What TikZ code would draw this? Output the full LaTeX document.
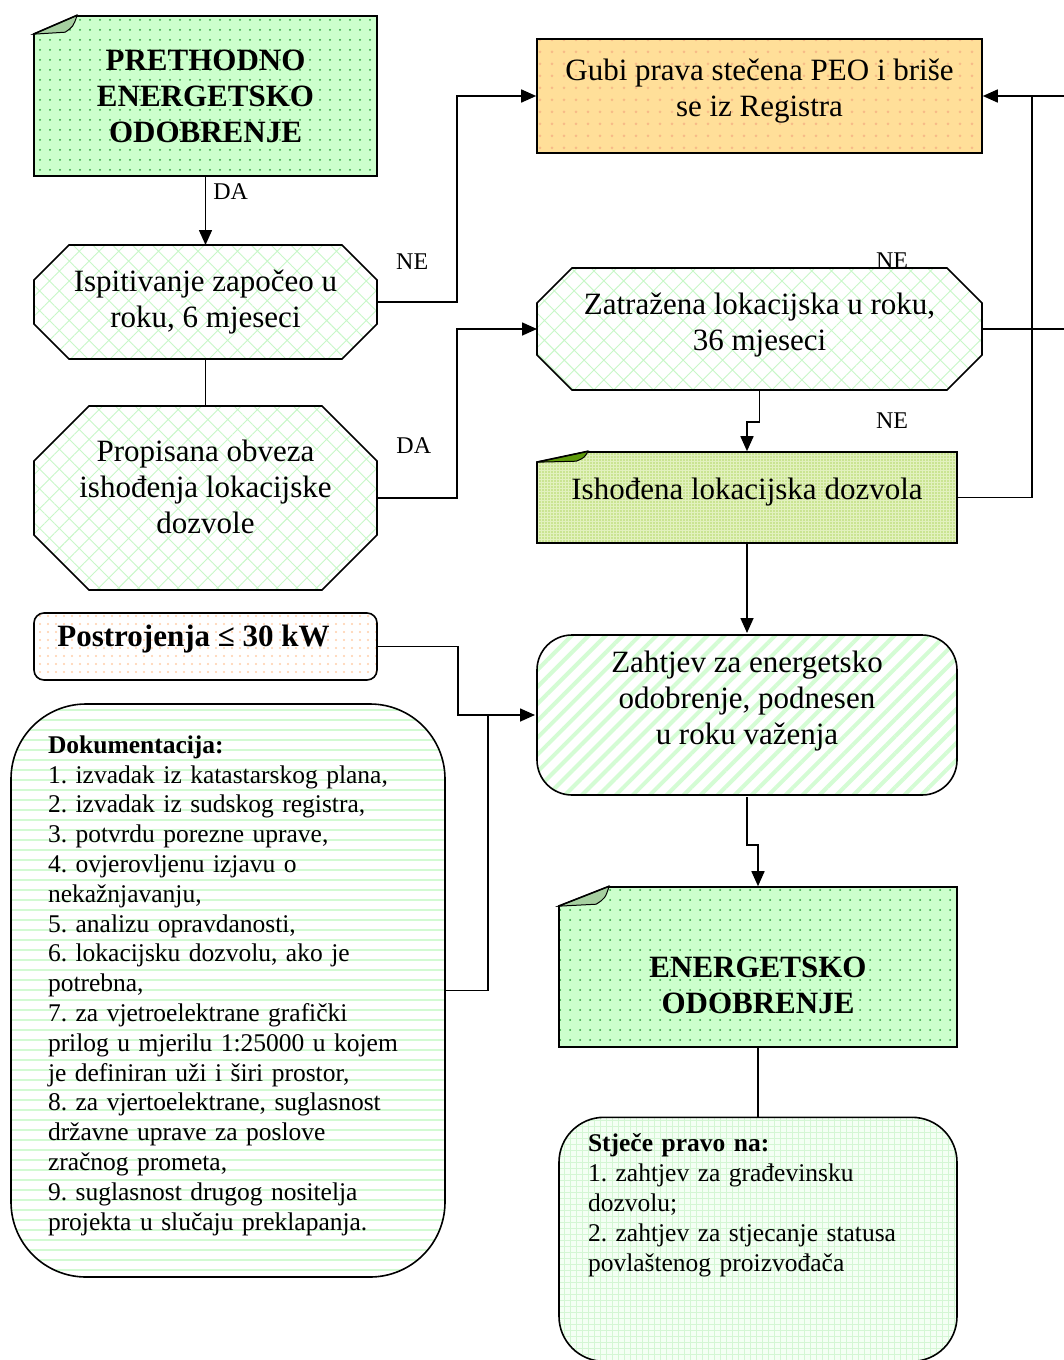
\documentclass[tikz,border=0pt]{standalone}
\usepackage{fontspec}
\setmainfont{Liberation Serif}
\frenchspacing
\usetikzlibrary{arrows.meta,calc,backgrounds,patterns.meta}

\definecolor{peogreen}{HTML}{CCFFCC}
\definecolor{dotgreen}{HTML}{2E9E3E}
\definecolor{foldgreen}{HTML}{A6CFA0}
\definecolor{gubiorange}{HTML}{FFDF99}
\definecolor{gubidot}{HTML}{F7BB88}
\definecolor{brickgreen}{HTML}{C8F7C8}
\definecolor{ishgreen}{HTML}{E2F1BE}
\definecolor{ishdot}{HTML}{B2D866}
\definecolor{ishfold}{HTML}{5E9A0A}
\definecolor{kwpeach}{HTML}{FFCFAA}
\definecolor{dashgreen}{HTML}{D2FAD2}
\definecolor{stripegreen}{HTML}{D4FCD4}
\definecolor{meshgreen}{HTML}{D4F6D4}
\definecolor{meshback}{HTML}{F4FFF4}
\definecolor{octline}{HTML}{010101}

\newcommand{\foldcorner}[5]{%
  \fill[white] ($(#1.north west)+(-3,-3)$) -- ($(#1.north west)+(#2+1,-3)$) -- ($(#1.north west)+(#2,0)$) -- ($(#1.north west)+(0,#3)$) -- ($(#1.north west)+(-3,#3+1)$) -- cycle;
  \filldraw[fill=#5, line width=1pt] ($(#1.north west)+(0,#3)$) -- ($(#1.north west)+(#2,0)$) .. controls ($(#1.north west)+(#2-4,#3*0.6)$) .. ($(#1.north west)+(#4)$) -- cycle;
  \draw[line width=1.6pt] ($(#1.north west)+(0,#3)$) -- ($(#1.north west)+(#2,0)$);
}
\newcommand{\octpath}[2]{($(#1.north west)+(#2,0)$) -- ($(#1.north east)+(-#2,0)$) -- ($(#1.north east)+(0,#2)$) -- ($(#1.south east)+(0,-#2)$) -- ($(#1.south east)+(-#2,0)$) -- ($(#1.south west)+(#2,0)$) -- ($(#1.south west)+(0,-#2)$) -- ($(#1.north west)+(0,#2)$) -- cycle}

\begin{document}
\begin{tikzpicture}[x=1pt, y=-1pt, line width=1.6pt,
  big/.style={font=\fontsize{31}{36}\selectfont},
  small/.style={font=\fontsize{25.5}{29.8}\selectfont},
  lbl/.style={font=\fontsize{24}{28}\selectfont, inner sep=0pt},
  arr/.style={-{Triangle[length=15pt,width=13pt]}},
  dotbox/.style={draw, rectangle, preaction={fill=peogreen}, pattern={Dots[distance=10pt,radius=1pt]}, pattern color=dotgreen},
  octbox/.style={rectangle, outer sep=0pt},
  octfill/.style={preaction={fill=white}, pattern={Hatch[angle=45,distance=14pt,line width=.9pt]}, pattern color=brickgreen},
  bold/.style={font=\fontsize{31}{36}\selectfont\bfseries, align=center}]
\useasboundingbox (0,0) rectangle (1064,1360);

\node[dotbox, minimum width=343pt, minimum height=160pt,
  label={[bold]center:{PRETHODNO\\ENERGETSKO\\ODOBRENJE}}] (peo) at (205.5,96) {};
\node[draw, preaction={fill=gubiorange}, pattern={Dots[distance=12pt,radius=1.5pt]}, pattern color=gubidot, minimum width=445pt, minimum height=114pt,
  label={[big, align=center, yshift=5pt]center:{Gubi prava stečena PEO i briše\\se iz Registra}}] (gubi) at (759.5,96) {};
\node[octbox, minimum width=343pt, minimum height=114pt,
  label={[big, align=center]center:{Ispitivanje započeo u\\roku, 6 mjeseci}}] (isp) at (205.5,302) {};
\node[octbox, minimum width=343pt, minimum height=184pt,
  label={[big, align=center, yshift=11pt]center:{Propisana obveza\\ishođenja lokacijske\\dozvole}}] (pro) at (205.5,498) {};
\node[octbox, minimum width=445pt, minimum height=122pt,
  label={[big, align=center, yshift=4pt]center:{Zatražena lokacijska u roku,\\36 mjeseci}}] (zat) at (759.5,329) {};
\node[draw, preaction={fill=ishgreen}, pattern={Dots[distance=3pt,radius=.8pt]}, pattern color=ishdot, minimum width=420pt, minimum height=91pt,
  label={[big, yshift=5pt]center:Ishođena lokacijska dozvola}] (ish) at (747,497.5) {};
\node[draw, rounded corners=10pt, preaction={fill=white}, pattern={Dots[distance=8pt,radius=1.2pt]}, pattern color=kwpeach, minimum width=343pt, minimum height=67pt,
  label={[bold, xshift=-12pt, yshift=7pt]center:Postrojenja ≤ 30 kW}] (kw) at (205.5,646.5) {};
\node[draw, rounded corners=75pt, preaction={fill=white}, pattern={Lines[distance=10pt,line width=1.5pt]}, pattern color=dashgreen, minimum width=434pt, minimum height=573pt,
  label={[small, align=left, text width=360pt, yshift=5pt]center:{\textbf{Dokumentacija:}\\1. izvadak iz katastarskog plana,\\2. izvadak iz sudskog registra,\\3. potvrdu porezne uprave,\\4. ovjerovljenu izjavu o\\nekažnjavanju,\\5. analizu opravdanosti,\\6. lokacijsku dozvolu, ako je\\potrebna,\\7. za vjetroelektrane grafički\\prilog u mjerilu 1:25000 u kojem\\je definiran uži i širi prostor,\\8. za vjertoelektrane, suglasnost\\državne uprave za poslove\\zračnog prometa,\\9. suglasnost drugog nositelja\\projekta u slučaju preklapanja.}}] (dok) at (228,990.5) {};
\node[draw, rounded corners=35pt, preaction={fill=white}, pattern={Lines[angle=45,distance=12pt,line width=4pt]}, pattern color=stripegreen, minimum width=420pt, minimum height=160pt,
  label={[big, align=center, yshift=14pt]center:{Zahtjev za energetsko\\odobrenje, podnesen\\u roku važenja}}] (zah) at (747,715) {};
\node[dotbox, minimum width=398pt, minimum height=160pt,
  label={[bold, yshift=-18pt]center:{ENERGETSKO\\ODOBRENJE}}] (ene) at (758,967) {};
\node[draw, rounded corners=45pt, preaction={fill=meshback}, pattern={Hatch[distance=6pt,line width=.6pt]}, pattern color=meshgreen, minimum width=398pt, minimum height=244pt, anchor=north,
  label={[small, align=left, text width=340pt, yshift=34pt]center:{\textbf{Stječe pravo na:}\\1. zahtjev za građevinsku\\dozvolu;\\2. zahtjev za stjecanje statusa\\povlaštenog proizvođača}}] (sti) at (758,1117) {};

\begin{scope}[on background layer]
\node[lbl] (ne-b) at (892,261) {NE};
\path[octfill] \octpath{isp}{35};
\path[octfill] \octpath{pro}{55};
\path[octfill] \octpath{zat}{35};
\end{scope}
\draw[octline, line join=miter] \octpath{isp}{35};
\draw[octline, line join=miter] \octpath{pro}{55};
\draw[octline, line join=miter] \octpath{zat}{35};

\foldcorner{peo}{44}{19}{32,17}{foldgreen}
\foldcorner{ish}{52}{11}{40,10}{ishfold}
\foldcorner{ene}{51}{20}{38,18}{foldgreen}

\node[lbl] (ne-c) at (892,421) {NE};
\coordinate (rimB) at (1064,96);
\coordinate (rimJ) at (1032,96);
\coordinate (dokJ) at ($(zah.west)+(-47,0)$);

\draw[arr] (peo) -- node[lbl, right=7pt, pos=.22] {DA} (isp);
\draw[arr] (isp.east) -- node[lbl, above=32pt, pos=.44] {NE} ++(80,0) |- (gubi.west);
\draw (isp) -- (pro);
\draw[arr] (pro.east) -- node[lbl, above=44pt, pos=.46] {DA} ++(80,0) |- (zat.west);
\draw[arr] (zat.south) -- ++(0,32) -| (ish.north);
\draw (zat.east) -- (zat.east -| rimB);
\draw (ish.east) -| (rimJ);
\draw[arr] (rimB) -- (gubi.east);
\draw[arr] (ish) -- (zah);
\draw[arr] (kw.east) -- ++(80,0) |- (zah.west);
\draw (dok.east) -| (dokJ);
\draw[arr] (zah.south) -- ++(0,48) -| (ene.north);
\draw (ene) -- (sti);
\end{tikzpicture}
\end{document}
